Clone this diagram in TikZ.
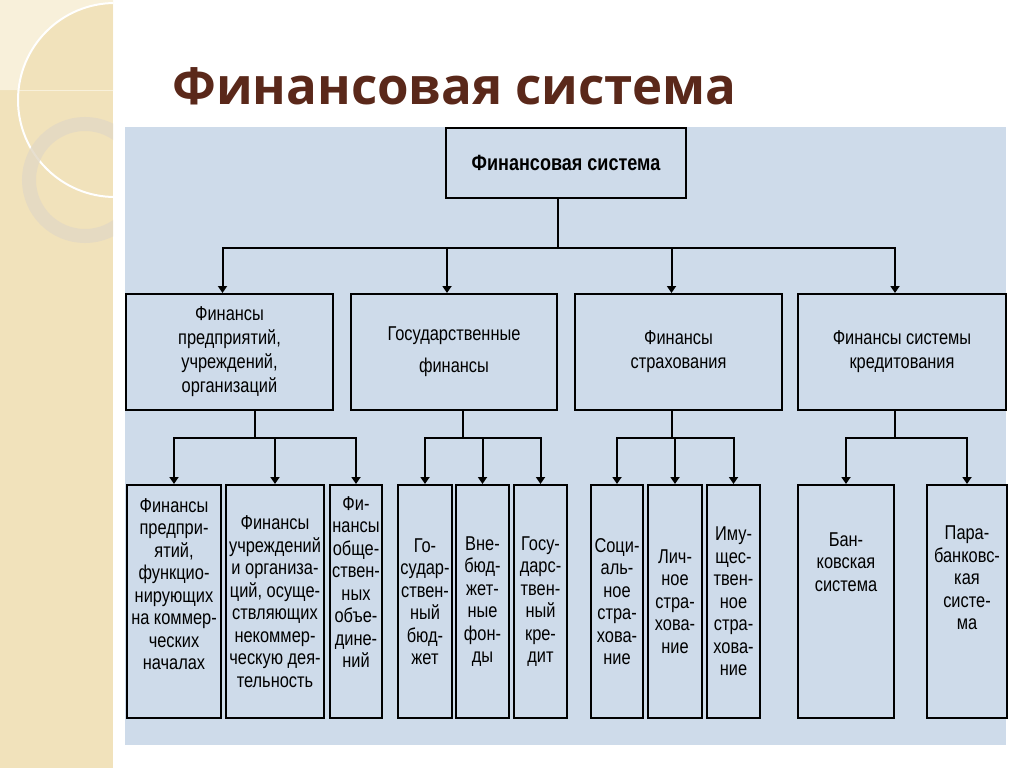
\documentclass[tikz,border=0pt]{standalone}
\usepackage{fontspec}
\setmainfont[FakeStretch=0.82]{Liberation Sans}
\newfontfamily\titlefont{Open Sans}
\usetikzlibrary{arrows.meta}
\definecolor{panel}{RGB}{206,219,234}
\definecolor{sand}{RGB}{241,226,187}
\definecolor{sandlight}{RGB}{248,240,218}
\definecolor{ringcol}{RGB}{226,216,196}
\definecolor{titlebrown}{RGB}{90,40,26}

\begin{document}
\begin{tikzpicture}[x=1pt, y=-1pt,
rootbox/.style = {draw, line width = 2pt, fill = panel, align = center, inner sep = 1pt},
headbox/.style = {rootbox, minimum width = 240pt, minimum height = 70pt, font = \bfseries\fontsize{22}{24}\selectfont},
groupbox/.style = {rootbox, minimum height = 116pt, font = \fontsize{20}{24}\selectfont},
leafbox/.style = {rootbox, minimum height = 233pt, font = \fontsize{20}{22.5}\selectfont},
arr/.style = {line width = 2pt, -{Triangle[width = 9pt, length = 7pt]}}]

\useasboundingbox (0,0) rectangle (1024,768);
\fill[white] (0,0) rectangle (1024,768);

% side strip
\fill[sand] (0,0) rectangle (113,768);
\begin{scope}
\clip (0,0) rectangle (113,768);
\begin{scope}
\clip (0,0) rectangle (113,90);
\fill[sandlight, even odd rule] (0,0) rectangle (113,90) (115,100) circle (97pt);
\end{scope}
\draw[white, line width = 2pt] (115,100) circle (97pt);
\draw[ringcol, line width = 14pt, opacity = 0.8] (85,180) circle (56pt);
\end{scope}

\node[font = \titlefont\bfseries\fontsize{51}{58}\selectfont, text = titlebrown, anchor = base west, inner sep = 0pt] (title) at (172,104) {Финансовая система};

\fill[panel] (125,127) rectangle (1006,745);

\node[headbox] (fs) at (566,163) {Финансовая система};

\node[groupbox, minimum width = 207pt] (A) at (229.5,352) {Финансы\\предприятий,\\учреждений,\\организаций};
\node[groupbox, minimum width = 206pt] (B) at (454,352) {Государственные\\[8pt]финансы};
\node[groupbox, minimum width = 207pt] (C) at (678.5,352) {Финансы\\страхования};
\node[groupbox, minimum width = 208pt] (D) at (902,352) {Финансы системы\\кредитования};

\node[leafbox, minimum width = 94pt] (A1) at (174,601.5) {Финансы\\предпри-\\ятий,\\функцио-\\нирующих\\на коммер-\\ческих\\началах\\[12pt]};
\node[leafbox, minimum width = 98pt] (A2) at (275,601.5) {Финансы\\учреждений\\и организа-\\ций, осуще-\\ствляющих\\некоммер-\\ческую дея-\\тельность};
\node[leafbox, minimum width = 52pt] (A3) at (356,601.5) {Фи-\\нансы\\обще-\\ствен-\\ных\\объе-\\дине-\\ний\\[16pt]};
\node[leafbox, minimum width = 54pt] (B1) at (425,601.5) {Го-\\судар-\\ствен-\\ный\\бюд-\\жет};
\node[leafbox, minimum width = 53pt] (B2) at (482.5,601.5) {Вне-\\бюд-\\жет-\\ные\\фон-\\ды};
\node[leafbox, minimum width = 53pt] (B3) at (540.5,601.5) {Госу-\\дарс-\\твен-\\ный\\кре-\\дит};
\node[leafbox, minimum width = 52pt] (C1) at (617,601.5) {Соци-\\аль-\\ное\\стра-\\хова-\\ние};
\node[leafbox, minimum width = 54pt] (C2) at (675,601.5) {Лич-\\ное\\стра-\\хова-\\ние};
\node[leafbox, minimum width = 53pt] (C3) at (733.5,601.5) {Иму-\\щес-\\твен-\\ное\\стра-\\хова-\\ние};
\node[leafbox, minimum width = 96pt] (D1) at (846,601.5) {Бан-\\ковская\\система\\[57pt]};
\node[leafbox, minimum width = 80pt] (D2) at (967,601.5) {Пара-\\банковс-\\кая\\систе-\\ма\\[25pt]};

% connectors
\foreach \g in {A,B,C,D}
  \draw[arr] ([xshift = -8pt]fs.south) -- ++(0,49) -| ([xshift = -7pt]\g.north);
\foreach \c in {A1,A2,A3}
  \draw[arr] ([xshift = 25pt]A.south) -- ++(0,27) -| (\c.north);
\foreach \c in {B1,B2,B3}
  \draw[arr] ([xshift = 9pt]B.south) -- ++(0,27) -| (\c.north);
\foreach \c in {C1,C2,C3}
  \draw[arr] ([xshift = -7pt]C.south) -- ++(0,27) -| (\c.north);
\foreach \c in {D1,D2}
  \draw[arr] ([xshift = -7pt]D.south) -- ++(0,27) -| (\c.north);

\end{tikzpicture}
\end{document}
